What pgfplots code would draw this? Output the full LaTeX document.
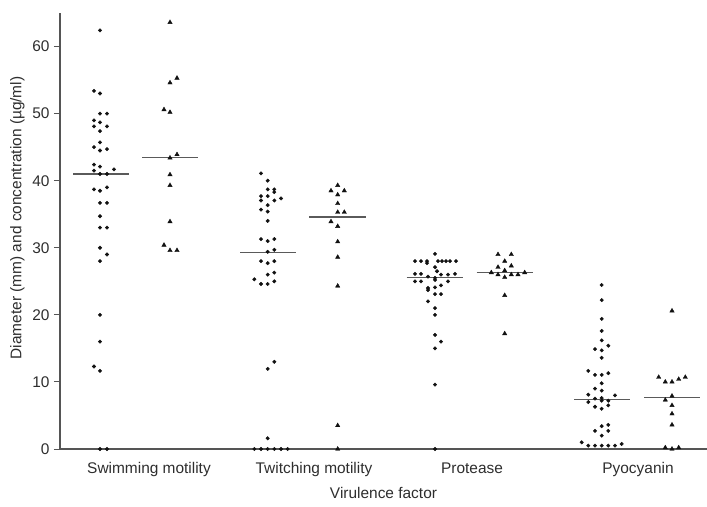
\documentclass[border=0pt]{standalone}
\usepackage{fontspec}
\setmainfont{Liberation Sans}
\usepackage{pgfplots}
\pgfplotsset{compat=1.18}
\definecolor{dotc}{HTML}{111111}
\definecolor{axc}{HTML}{555555}
\definecolor{medc}{HTML}{5A5A5A}
\definecolor{txtc}{HTML}{2E2E2E}
\begin{document}
\begin{tikzpicture}
\useasboundingbox (-60bp,-58bp) rectangle (647bp,449bp);
\begin{axis}[
  at={(0,0)}, anchor=south west,
  scale only axis, width=647bp, height=436bp,
  xmin=60, xmax=707, ymin=0, ymax=65,
  axis x line=bottom, axis y line=left,
  axis line style={-, color=axc, line width=1.1bp},
  clip=false,
  ytick={0,10,20,30,40,50,60},
  xtick={149,314,472,638},
  xticklabels={Swimming motility, Twitching motility, Protease, Pyocyanin},
  x tick style={draw=none},
  y tick style={color=axc, line width=1bp},
  major tick length=6bp,
  tick align=outside,
  /pgf/number format/assume math mode=true,
  every tick label/.append style={font=\fontsize{15.5}{18}\selectfont, text=txtc},
  xticklabel style={yshift=-4bp},
  yticklabel style={xshift=-1bp},
  xlabel={Virulence factor},
  ylabel={Diameter (mm) and concentration (µg/ml)},
  label style={font=\fontsize{15.5}{18}\selectfont, text=txtc},
  xlabel style={at={(axis description cs:0.5,-0.101)}, anchor=center},
  ylabel style={at={(axis description cs:-0.066,0.53)}, anchor=center},
]
% Swimming motility - circles
\addplot[only marks, mark=*, mark size=1.75bp, color=dotc] coordinates {
(100,62.4)
(94,53.4)(100,53.0)
(100,50.0)(107,50.0)
(94,49.0)(100,48.7)
(94,48.1)(107,48.1)
(100,47.4)
(100,45.7)
(94,45.0)
(100,44.5)(107,44.7)
(94,42.4)
(100,42.1)
(114,41.7)
(94,41.5)
(100,41.0)(107,41.0)
(94,38.7)(100,38.5)(107,39.0)
(100,36.7)(107,36.7)
(100,34.7)
(100,33.0)(107,33.0)
(100,30.0)
(107,29.0)
(100,28.0)
(100,20.0)
(100,16.0)
(94,12.3)
(100,11.65)
(100,0)(107,0)
};
% Swimming motility - triangles
\addplot[only marks, mark=triangle*, mark size=2.5bp, color=dotc] coordinates {
(170,63.6)(170,54.6)(177,55.3)(164,50.6)(170,50.2)(170,43.4)(177,43.9)
(170,40.9)(170,39.3)(170,33.9)(164,30.4)(170,29.6)(177,29.6)
};
% Twitching motility - circles
\addplot[only marks, mark=*, mark size=1.75bp, color=dotc] coordinates {
(261,41.1)(267.7,40.0)(267.7,38.7)(274.3,38.7)(274.3,38.3)(261,37.7)(267.7,37.7)
(281,37.35)(261,37.05)(274.3,37.05)(267.7,36.35)(261,35.7)(267.7,35.4)(267.7,34.0)
(261,31.3)(267.7,31.0)(274.3,31.3)(267.7,29.4)(274.3,29.7)(261,28.0)(267.7,27.7)
(274.3,28.0)(267.7,26.0)(274.3,26.3)(254.3,25.3)(261,24.6)(267.7,24.6)(274.3,25.0)
(274.3,13.0)(267.7,11.95)(267.7,1.6)
(254.3,0)(261,0)(267.7,0)(274.3,0)(281,0)(287.7,0)
};
% Twitching motility - triangles
\addplot[only marks, mark=triangle*, mark size=2.5bp, color=dotc] coordinates {
(337.7,39.3)(331,38.5)(344.3,38.5)(337.7,37.9)(337.7,36.6)(337.7,35.3)(344.3,35.3)
(331,33.9)(337.7,33.2)(337.7,30.9)(337.7,28.6)(337.7,24.3)(337.7,3.5)(337.7,0)
};
% Protease - circles
\addplot[only marks, mark=*, mark size=1.75bp, color=dotc] coordinates {
(435,29.1)
(415,28.0)(421,28.0)(427,28.0)(427,27.7)(438,28.0)(442,28.0)(446,28.0)(450,28.0)(456,28.0)
(435,27.1)
(437,26.5)
(415,26.1)(421,26.1)(428,25.7)(435,25.5)(441,26.0)(448,26.0)(455,26.1)
(415,25.0)(421,25.0)(435,25.2)(448,25.0)
(428,24.0)(428,23.7)(435,24.1)(441,24.4)
(435,23.1)(441,23.1)
(428,22.0)(435,21.0)(435,20.0)(435,17.0)(441,16.0)(435,15.0)(435,9.6)(435,0)
};
% Protease - triangles
\addplot[only marks, mark=triangle*, mark size=2.5bp, color=dotc] coordinates {
(498,29.0)(511.3,29.0)(504.7,28.0)(498,27.1)(511.3,27.3)(504.7,26.6)(491.3,26.3)
(498,26.0)(504.7,25.6)(511.3,26.0)(518,26.0)(524.7,26.3)(504.7,22.9)(504.7,17.2)
};
% Pyocyanin - circles
\addplot[only marks, mark=*, mark size=1.75bp, color=dotc] coordinates {
(601.7,24.45)(601.7,22.2)(601.7,19.4)(601.7,17.6)(601.7,16.2)(595,14.9)(601.7,14.7)
(608.3,15.4)(601.7,13.6)
(588.3,11.65)(595,11.05)(601.7,11.05)(608.3,11.3)(601.7,9.8)(595,9.0)(601.7,8.7)
(588.3,8.1)(615,8.0)(595,7.5)(601.7,7.6)(588.3,7.0)(601.7,7.2)(608.3,7.2)(595,6.3)
(608.3,6.5)(601.7,6.0)
(601.7,3.4)(608.3,3.6)(595,2.7)(608.3,2.7)(601.7,2.0)(581.7,1.0)
(588.3,0.5)(595,0.5)(601.7,0.5)(608.3,0.5)(615,0.5)(621.7,0.75)
};
% Pyocyanin - triangles
\addplot[only marks, mark=triangle*, mark size=2.5bp, color=dotc] coordinates {
(672,20.6)(658.7,10.7)(665.3,10.0)(672,10.0)(678.7,10.4)(685.3,10.7)(672,7.9)
(665.3,7.3)(672,6.5)(672,5.25)(672,3.6)(665.3,0.2)(672,0)(678.7,0.2)
};
% Median lines
\addplot[medc, line width=1.4bp] coordinates {(73.3,41.0) (129,41.0)};
\addplot[medc, line width=1.4bp] coordinates {(142.3,43.5) (198.3,43.5)};
\addplot[medc, line width=1.4bp] coordinates {(240,29.3) (295.7,29.3)};
\addplot[medc, line width=1.4bp] coordinates {(309.3,34.6) (365.7,34.6)};
\addplot[medc, line width=1.4bp] coordinates {(406.7,25.6) (463.3,25.6)};
\addplot[medc, line width=1.4bp] coordinates {(476.7,26.3) (533.3,26.3)};
\addplot[medc, line width=1.4bp] coordinates {(574.3,7.4) (630,7.4)};
\addplot[medc, line width=1.4bp] coordinates {(644,7.7) (700,7.7)};
\end{axis}
\end{tikzpicture}
\end{document}
